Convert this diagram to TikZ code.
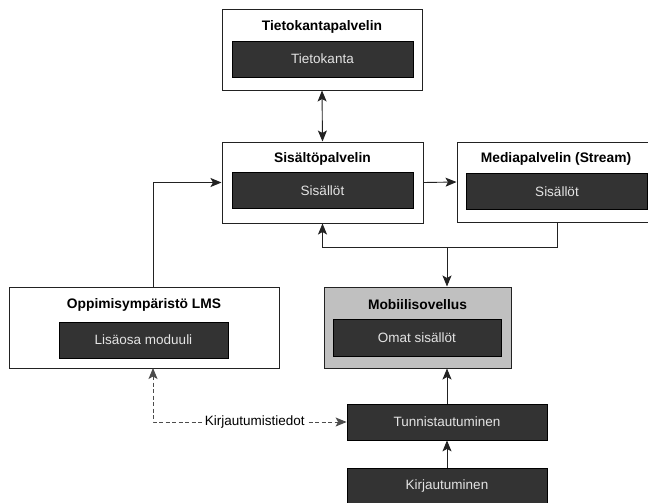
\documentclass[tikz,border=0pt]{standalone}
\usepackage{fontspec}
\setmainfont{Liberation Sans}
\usetikzlibrary{arrows.meta}
\definecolor{darkfill}{HTML}{333333}
\definecolor{lighttext}{HTML}{E4E4E4}
\definecolor{mobfill}{HTML}{C0C0C0}
\definecolor{linecol}{HTML}{222222}
\tikzset{
  tip/.tip={Stealth[length=11pt,width=9pt,inset=2.5pt]},
  outerbox/.style={draw=linecol, line width=1pt, fill=white, minimum width=200pt, minimum height=80pt, inner sep=0pt},
  innerbox/.style={draw=black, line width=0.8pt, fill=darkfill, text=lighttext, minimum width=181pt, minimum height=36pt, inner sep=0pt, font=\fontsize{13.5}{16}\selectfont},
  titletext/.style={font=\fontsize{13.8}{16}\selectfont\bfseries, inner sep=0pt},
  conn/.style={draw=linecol, line width=0.9pt, -tip},
  dconn/.style={draw=black!70, line width=0.9pt, dash pattern=on 4pt off 2.5pt, tip-tip},
}
\begin{document}
\begin{tikzpicture}[x=1pt,y=-1pt]
\useasboundingbox (0,0) rectangle (648,503);
\clip (0,0) rectangle (648,503);
% Tietokantapalvelin
\node[outerbox] (tkp) at (322,50) {};
\node[titletext] (tkpt) at (322,27) {Tietokantapalvelin};
\node[innerbox] (tk) at (322.5,59) {Tietokanta};
% Sisaltopalvelin
\node[outerbox, minimum width=201pt, minimum height=81pt] (sp) at (322.5,182.5) {};
\node[titletext] (spt) at (322.5,159) {Sisältöpalvelin};
\node[innerbox] (spi) at (322.5,190.5) {Sisällöt};
% Mediapalvelin
\node[outerbox] (mp) at (557,182) {};
\node[titletext] (mpt) at (556,159) {Mediapalvelin (Stream)};
\node[innerbox] (mpi) at (557,191.5) {Sisällöt};
% LMS
\node[outerbox, minimum width=270pt, minimum height=81pt] (lms) at (144,327.5) {};
\node[titletext] (lmst) at (144,305) {Oppimisympäristö LMS};
\node[innerbox, minimum width=169pt] (lmsi) at (143.5,340) {Lisäosa moduuli};
% Mobiilisovellus
\node[outerbox, fill=mobfill, minimum width=187pt, minimum height=81pt] (mob) at (417.5,327.5) {};
\node[titletext] (mobt) at (417.5,305) {Mobiilisovellus};
\node[innerbox, minimum width=168pt, minimum height=37pt] (mobi) at (417,337.5) {Omat sisällöt};
% Tunnistautuminen, Kirjautuminen
\node[innerbox, minimum width=200pt] (tun) at (447,422) {Tunnistautuminen};
\node[innerbox, minimum width=200pt] (kir) at (447,486) {Kirjautuminen};
% coordinates
\coordinate (j) at (447,247);
\coordinate (lmsd) at (153,368);
% connectors
\draw[conn, tip-tip] (tkp.south) -- (sp.north);
\draw[conn] (sp.east) -- (mp.west);
\draw[conn] ([xshift=9pt]lms.north) |- (sp.west);
\draw[conn] (mp.south) |- (sp.south |- j) -- (sp.south);
\draw[conn] (j) -- (j |- mob.north);
\draw[conn] (tun.north) -- (tun.north |- mob.south);
\draw[conn] (kir.north) -- (tun.south);
\draw[dconn] (lmsd) |- node[pos=0.763, fill=white, inner sep=1.5pt, font=\fontsize{13.5}{16}\selectfont] (lbl) {Kirjautumistiedot} (tun.west);
\end{tikzpicture}
\end{document}
